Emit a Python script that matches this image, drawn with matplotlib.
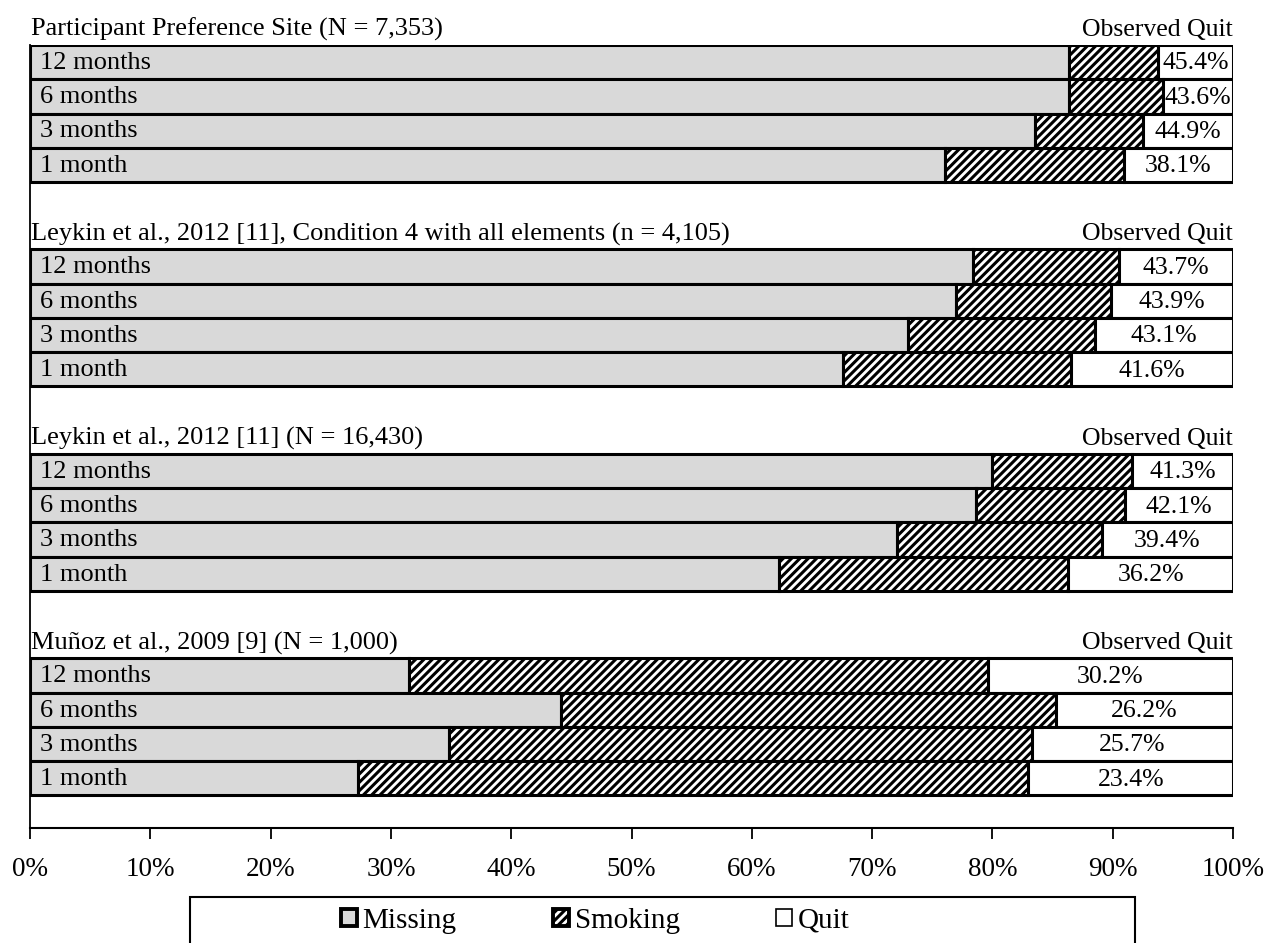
import matplotlib.pyplot as plt
import numpy as np
from matplotlib.patches import Patch, Rectangle

plt.rcParams['font.family'] = ['Liberation Serif', 'DejaVu Serif']
plt.rcParams['hatch.linewidth'] = 2.2

studies = ['Participant Preference Site (N = 7,353)',
           'Leykin et al., 2012 [11], Condition 4 with all elements (n = 4,105)',
           'Leykin et al., 2012 [11] (N = 16,430)',
           'Muñoz et al., 2009 [9] (N = 1,000)']
periods = ['12 months', '6 months', '3 months', '1 month']

# percent of sample
missing = [[86.4, 86.4, 83.5, 76.1],
           [78.4, 77.0, 73.0, 67.6],
           [80.0, 78.6, 72.1, 62.3],
           [31.5, 44.1, 34.8, 27.3]]
smoking = [[7.4, 7.8, 9.0, 14.8],
           [12.1, 12.9, 15.5, 18.9],
           [11.6, 12.4, 17.0, 24.0],
           [48.1, 41.2, 48.5, 55.7]]
observed_quit = [['45.4%', '43.6%', '44.9%', '38.1%'],
                 ['43.7%', '43.9%', '43.1%', '41.6%'],
                 ['41.3%', '42.1%', '39.4%', '36.2%'],
                 ['30.2%', '26.2%', '25.7%', '23.4%']]

gray = '#d9d9d9'
gap = 5.97

fig = plt.figure(figsize=(12.72, 9.43), dpi=100)
ax = fig.add_axes([30 / 1272, 115 / 943, 1203 / 1272, 783 / 943])

for g in range(len(studies)):
    top = g * gap
    for i in range(len(periods)):
        y = top + i + 0.5
        m = missing[g][i]
        s = smoking[g][i]
        q = 100 - m - s
        ax.barh(y, m, height=1.0, color=gray, edgecolor='black', linewidth=2.2)
        ax.barh(y, s, left=m, height=1.0, color='white', edgecolor='black',
                linewidth=2.2, hatch='////')
        ax.barh(y, q, left=m + s, height=1.0, color='white', edgecolor='black',
                linewidth=2.2)
        ax.text(0.8, y + 0.02, periods[i], va='center', ha='left', fontsize=19)
        ax.text(m + s + q / 2, y + 0.04, observed_quit[g][i], va='center',
                ha='center', fontsize=18.5)
    ax.text(0.1, top - 0.45, studies[g], va='center', ha='left', fontsize=19,
            clip_on=False)
    ax.text(100, top - 0.45, 'Observed Quit', va='center', ha='right',
            fontsize=18.5, clip_on=False)

ax.set_xlim(0, 100)
ax.set_ylim(22.86, 0)
ax.set_xticks(np.arange(0, 101, 10))
ax.set_xticklabels([f'{v}%' for v in range(0, 101, 10)], fontsize=19.5)
ax.set_yticks([])
ax.tick_params(axis='x', direction='out', length=8, width=1.3, pad=13)
ax.spines['top'].set_visible(False)
ax.spines['right'].set_visible(False)
ax.spines['left'].set_linewidth(1.3)
ax.spines['bottom'].set_linewidth(1.5)

# legend box runs off the bottom edge of the figure
fig.patches.append(Rectangle((190 / 1272, -0.02), 945 / 1272, 0.02 + 46 / 943,
                             transform=fig.transFigure, facecolor='white',
                             edgecolor='black', linewidth=1.5))
handles = [Patch(facecolor=gray, edgecolor='black', linewidth=2.8),
           Patch(facecolor='white', edgecolor='black', linewidth=2.8, hatch='////'),
           Patch(facecolor='white', edgecolor='black', linewidth=1.2)]
fig.legend(handles, ['Missing', 'Smoking', 'Quit'], ncol=3, frameon=False,
           loc='center left', bbox_to_anchor=(326 / 1272, 22 / 943),
           fontsize=21, handlelength=0.55, handleheight=0.55, handletextpad=0.2,
           columnspacing=3.3, borderpad=0)

fig.savefig('out.png', dpi=100)
